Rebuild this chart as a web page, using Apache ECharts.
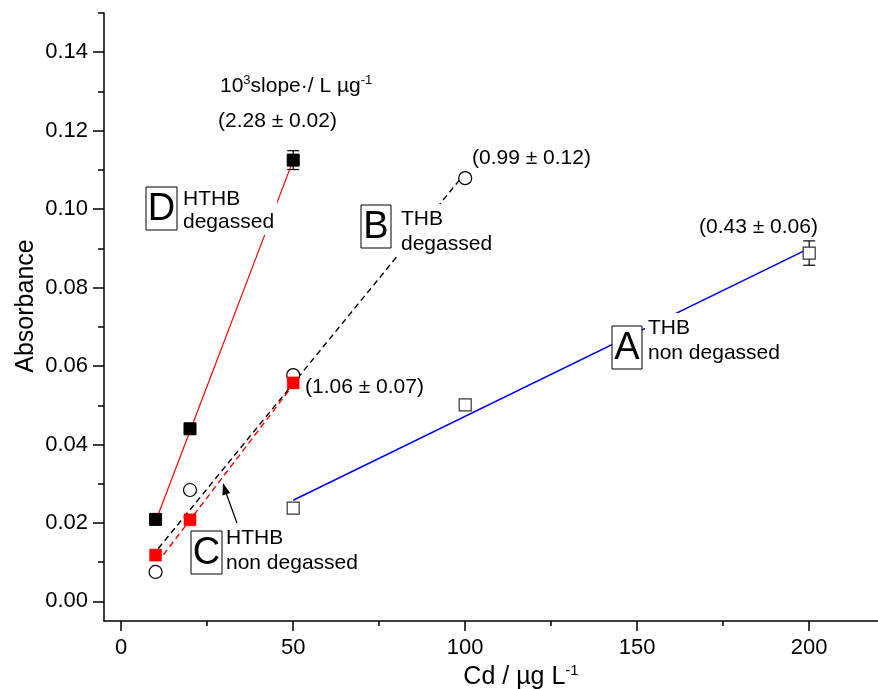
<!DOCTYPE html>
<html>
<head>
<meta charset="utf-8">
<script src="https://cdn.jsdelivr.net/npm/echarts@6/dist/echarts.min.js"></script>
<style>
  html, body { margin: 0; padding: 0; background: #fff; }
  #chart { width: 878px; height: 689px; }
</style>
</head>
<body>
<div id="chart"></div>
<script>
// measured points (Cd in ug/L, absorbance)
const concA = [50, 100, 200];
const absA = [0.0238, 0.0501, 0.0888];
const errA = [0, 0, 0.0031];

const concB = [10, 20, 50, 100];
const absB = [0.0075, 0.0284, 0.0577, 0.1079];

const concC = [10, 20, 50];
const absC = [0.0118, 0.0208, 0.0557];

const concD = [10, 20, 50];
const absD = [0.0209, 0.0440, 0.1125];
const errD = [0, 0, 0.0024];

// fitted lines, end points
const fitA = [[50, 0.0258], [200, 0.0900]];
const fitB = [[10.8, 0.0135], [98.5, 0.1076]];
const fitC = [[12.3, 0.0119], [50, 0.0552]];
const fitD = [[10.4, 0.0213], [50, 0.1125]];

// axis ticks
const xTicks = [0, 50, 100, 150, 200];
const xMinor = [25, 75, 125, 175];
const yTicks = [0, 0.02, 0.04, 0.06, 0.08, 0.10, 0.12, 0.14];
const yMinor = [0.01, 0.03, 0.05, 0.07, 0.09, 0.11, 0.13, 0.15];

const FONT = "'Liberation Sans', Arial, sans-serif";

function pairs(xs, ys) {
  return xs.map((x, i) => [x, ys[i]]);
}
function errRows(xs, ys, es) {
  return xs.map((x, i) => [x, ys[i], es[i]]).filter(r => r[2] > 0);
}

const chart = echarts.init(document.getElementById("chart"));

function errorBar(params, api) {
  const x = api.value(0), y = api.value(1), e = api.value(2);
  const top = api.coord([x, y + e]);
  const bot = api.coord([x, y - e]);
  const w = 6;
  const st = { stroke: "#000", lineWidth: 1.2 };
  return {
    type: "group",
    children: [
      { type: "line", shape: { x1: top[0], y1: top[1], x2: bot[0], y2: bot[1] }, style: st },
      { type: "line", shape: { x1: top[0] - w, y1: top[1], x2: top[0] + w, y2: top[1] }, style: st },
      { type: "line", shape: { x1: bot[0] - w, y1: bot[1], x2: bot[0] + w, y2: bot[1] }, style: st }
    ]
  };
}

function twoLine(x, y, text, lh) {
  return {
    type: "text", x: x, y: y, z: 50,
    style: {
      text: text, fontSize: 21, fontFamily: FONT, fill: "#000",
      lineHeight: lh, align: "left", verticalAlign: "top",
      backgroundColor: "#fff", padding: [3, 3, 1, 3]
    }
  };
}
function boxLetter(x, y, w, h, letter) {
  return {
    type: "group", z: 50,
    children: [
      { type: "rect", shape: { x: x, y: y, width: w, height: h }, style: { fill: "#fff", stroke: "#000", lineWidth: 1 }, z: 50 },
      { type: "text", x: x + w / 2, y: y + h / 2 + 1, z: 51,
        style: { text: letter, fontSize: 38, fontFamily: FONT, fill: "#000", align: "center", verticalAlign: "middle" } }
    ]
  };
}
function slopeText(x, y, text) {
  return {
    type: "text", x: x, y: y, z: 50,
    style: { text: text, fontSize: 21, fontFamily: FONT, fill: "#000", align: "left", verticalAlign: "middle" }
  };
}

const axisLine = { show: true, onZero: false, lineStyle: { color: "#000", width: 1.5 } };
const noLine = { show: false, onZero: false };

const option = {
  backgroundColor: "#fff",
  animation: false,
  grid: { left: 104, right: 0, top: 13, bottom: 68 },
  xAxis: [
    {
      type: "value", min: -5, max: 220, position: "bottom",
      axisLine: axisLine,
      axisTick: { show: true, customValues: xTicks, length: 10, lineStyle: { color: "#000", width: 1.5 } },
      axisLabel: { customValues: xTicks, color: "#000", fontSize: 22, fontFamily: FONT, margin: 16 },
      splitLine: { show: false }
    },
    {
      type: "value", min: -5, max: 220, position: "bottom", offset: 0,
      axisLine: noLine,
      axisTick: { show: true, customValues: xMinor, length: 5, lineStyle: { color: "#000", width: 1.5 } },
      axisLabel: { show: false },
      splitLine: { show: false }
    }
  ],
  yAxis: [
    {
      type: "value", min: -0.005, max: 0.15, position: "left",
      axisLine: axisLine,
      axisTick: { show: true, customValues: yTicks, length: 11, lineStyle: { color: "#000", width: 1.5 } },
      axisLabel: {
        customValues: yTicks, color: "#000", fontSize: 22, fontFamily: FONT, margin: 16,
        formatter: v => v.toFixed(2)
      },
      splitLine: { show: false }
    },
    {
      type: "value", min: -0.005, max: 0.15, position: "left", offset: 0,
      axisLine: noLine,
      axisTick: { show: true, customValues: yMinor, length: 6, lineStyle: { color: "#000", width: 1.5 } },
      axisLabel: { show: false },
      splitLine: { show: false }
    }
  ],
  series: [
    // fitted lines
    { type: "line", data: fitD, showSymbol: false, z: 2, lineStyle: { color: "#ff0000", width: 1.2 } },
    { type: "line", data: fitC, showSymbol: false, z: 2, lineStyle: { color: "#ff0000", width: 1.4, type: [6, 4] } },
    { type: "line", data: fitB, showSymbol: false, z: 2, lineStyle: { color: "#000", width: 1.4, type: [6, 4] } },
    { type: "line", data: fitA, showSymbol: false, z: 2, lineStyle: { color: "#0000ff", width: 1.6 } },
    // error bars
    { type: "custom", renderItem: errorBar, data: errRows(concD, absD, errD), z: 3 },
    { type: "custom", renderItem: errorBar, data: errRows(concA, absA, errA), z: 3 },
    // points
    { type: "scatter", data: pairs(concB, absB), symbol: "circle", symbolSize: 13, z: 4,
      itemStyle: { color: "#fff", borderColor: "#000", borderWidth: 1.2, opacity: 1 } },
    { type: "scatter", data: pairs(concA, absA), symbol: "rect", symbolSize: 12, z: 4,
      itemStyle: { color: "#fff", borderColor: "#333", borderWidth: 1.2, opacity: 1 } },
    { type: "scatter", data: pairs(concC, absC), symbol: "rect", symbolSize: 12, z: 5,
      itemStyle: { color: "#ff0000", borderColor: "#ff0000", borderWidth: 0.5, opacity: 1 } },
    { type: "scatter", data: pairs(concD, absD), symbol: "rect", symbolSize: 12, z: 5,
      itemStyle: { color: "#000", borderColor: "#000", borderWidth: 1, opacity: 1 } }
  ],
  graphic: [
    // axis titles
    {
      type: "text", x: 26, y: 306, rotation: Math.PI / 2,
      style: { text: "Absorbance", fontSize: 25, fontFamily: FONT, fill: "#000", align: "center", verticalAlign: "middle" }
    },
    {
      type: "text", x: 521, y: 677,
      style: {
        text: "{n|Cd / \u00b5g L}{s|-1}", align: "center", verticalAlign: "middle",
        rich: {
          n: { fontSize: 25, fontFamily: FONT, fill: "#000", lineHeight: 28 },
          s: { fontSize: 15, fontFamily: FONT, fill: "#000", lineHeight: 16, verticalAlign: "top" }
        }
      }
    },
    // slope header
    {
      type: "text", x: 220, y: 86, z: 50,
      style: {
        text: "{n|10}{s|3}{n|slope\u00b7/ L \u00b5g}{s|-1}", align: "left", verticalAlign: "middle",
        rich: {
          n: { fontSize: 21, fontFamily: FONT, fill: "#000", lineHeight: 24 },
          s: { fontSize: 13, fontFamily: FONT, fill: "#000", lineHeight: 14, verticalAlign: "top" }
        }
      }
    },
    slopeText(218, 121, "(2.28 \u00b1 0.02)"),
    slopeText(472, 158, "(0.99 \u00b1 0.12)"),
    slopeText(305, 387, "(1.06 \u00b1 0.07)"),
    slopeText(699, 227, "(0.43 \u00b1 0.06)"),
    // series tags
    boxLetter(146, 187, 31, 43, "D"),
    twoLine(180, 185, "HTHB\ndegassed", 23),
    boxLetter(361, 205, 30, 43, "B"),
    twoLine(398, 204, "THB\ndegassed", 25),
    boxLetter(612, 326, 30, 43, "A"),
    twoLine(645, 313, "THB\nnon degassed", 25),
    boxLetter(191, 531, 31, 43, "C"),
    twoLine(223, 523, "HTHB\nnon degassed", 25),
    // arrow pointing at the HTHB non degassed line
    {
      type: "line", z: 40,
      shape: { x1: 238, y1: 526, x2: 225, y2: 490 },
      style: { stroke: "#000", lineWidth: 1.2 }
    },
    {
      type: "polygon", z: 40,
      shape: { points: [[223, 483], [230.2, 493], [222.4, 495.6]] },
      style: { fill: "#000" }
    }
  ]
};

chart.setOption(option);
</script>
</body>
</html>
